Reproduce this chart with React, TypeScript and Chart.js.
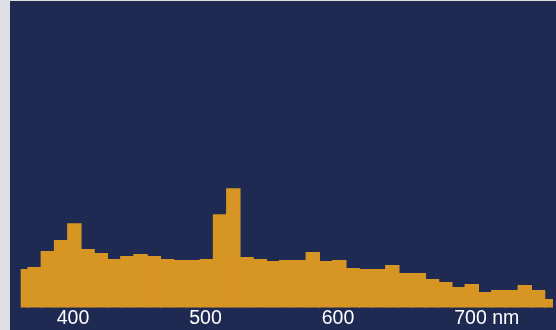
import React, { useEffect, useRef } from "react";
import { Chart, registerables } from "chart.js";

Chart.register(...registerables);

// Wavelength bin centres (nm)
const wavelengths = [
  361, 371, 381, 391, 401, 411, 421, 431, 441, 451,
  461, 471, 481, 491, 501, 511, 521, 531, 541, 551,
  561, 571, 581, 591, 601, 611, 621, 631, 641, 651,
  661, 671, 681, 691, 701, 711, 721, 731, 741, 751,
  761,
];

// Relative intensity per bin
const intensity = [
  38, 40, 56, 67, 84, 58, 54, 48, 51, 53,
  51, 48, 47, 47, 48, 93, 119, 50, 48, 46,
  47, 47, 55, 46, 47, 39, 38, 38, 42, 34,
  34, 28, 25, 20, 23, 15, 17, 17, 22, 17,
  8,
];

const tickValues = [400, 500, 600, 700];
const tickLabels = ["400", "500", "600", "      700 nm"];

export default function App() {
  const ref = useRef<HTMLCanvasElement>(null);

  useEffect(() => {
    document.body.style.margin = "0";
    document.body.style.background = "#dfe0e5";
    const chart = new Chart(ref.current as HTMLCanvasElement, {
      type: "bar",
      data: {
        datasets: [
          {
            data: wavelengths.map((x, i) => ({ x, y: intensity[i] })),
            backgroundColor: "#d79524",
            borderWidth: 0,
            inflateAmount: 0.6,
            barPercentage: 1,
            categoryPercentage: 1,
            clip: 0,
          } as any,
        ],
      },
      options: {
        animation: false,
        responsive: false,
        maintainAspectRatio: false,
        layout: { padding: { left: 10.7, right: 3, top: 7.5, bottom: 1 } },
        plugins: { legend: { display: false }, tooltip: { enabled: false } },
        scales: {
          x: {
            type: "linear",
            offset: false,
            min: 360.5,
            max: 762.3,
            grid: { display: false, drawTicks: false, offset: false },
            border: { display: false },
            afterBuildTicks: (s: any) => {
              s.ticks = tickValues.map((v) => ({ value: v }));
            },
            ticks: {
              color: "#ffffff",
              font: { family: "'Liberation Sans', Arial, sans-serif", size: 19.5, lineHeight: 1 },
              padding: 1,
              maxRotation: 0,
              autoSkip: false,
              callback: (v: any) => {
                const i = tickValues.indexOf(Number(v));
                return i >= 0 ? tickLabels[i] : "";
              },
            },
          },
          y: { display: false, min: 0, max: 300 },
        },
      },
    });
    return () => chart.destroy();
  }, []);

  return (
    <div
      style={{
        position: "absolute",
        left: 10,
        top: 1,
        width: 546,
        height: 329,
        background: "#1f2a52",
      }}
    >
      <canvas ref={ref} width={546} height={329} style={{ display: "block" }} />
    </div>
  );
}
